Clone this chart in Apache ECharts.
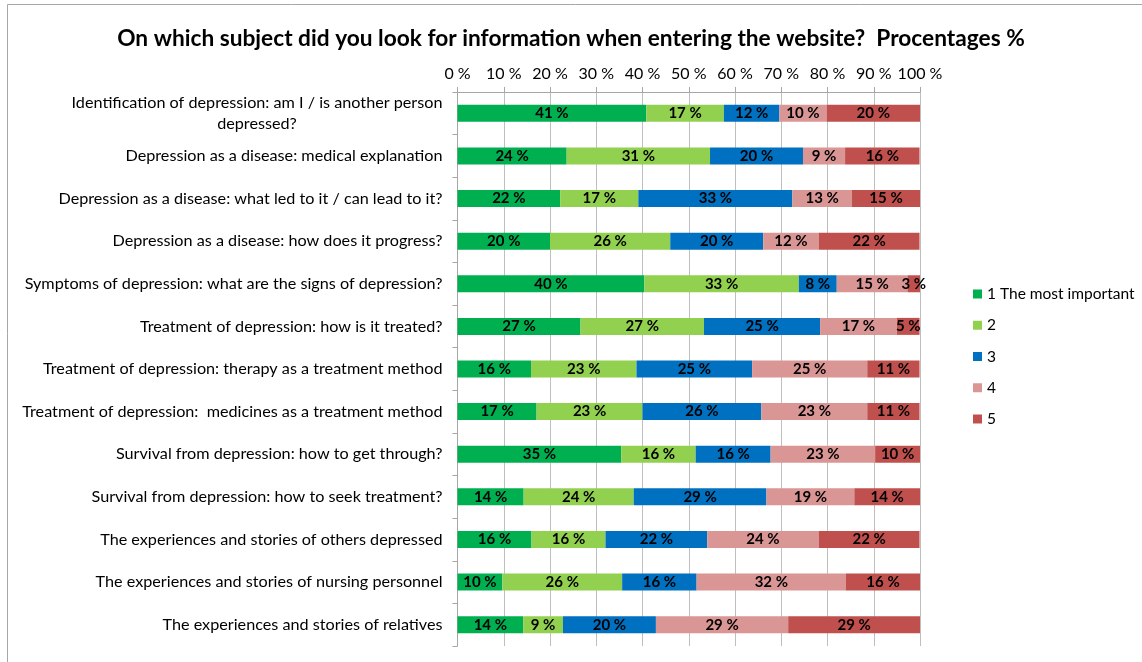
<!DOCTYPE html>
<html>
<head>
<meta charset="utf-8">
<script src="https://cdn.jsdelivr.net/npm/echarts@6/dist/echarts.min.js"></script>
<style>
html,body{margin:0;padding:0;background:#fff;}
#chart{width:1142px;height:662px;}
</style>
</head>
<body>
<div id="chart"></div>
<script>
var categories = [
  "Identification of depression: am I / is another person\ndepressed?",
  "Depression as a disease: medical explanation",
  "Depression as a disease: what led to it / can lead to it?",
  "Depression as a disease: how does it progress?",
  "Symptoms of depression: what are the signs of depression?",
  "Treatment of depression: how is it treated?",
  "Treatment of depression: therapy as a treatment method",
  "Treatment of depression:  medicines as a treatment method",
  "Survival from depression: how to get through?",
  "Survival from depression: how to seek treatment?",
  "The experiences and stories of others depressed",
  "The experiences and stories of nursing personnel",
  "The experiences and stories of relatives"
];
var seriesNames = ["1 The most important", "2", "3", "4", "5"];
var rank1 = [40.8, 23.6, 22.2, 20.0, 40.4, 26.6, 15.9, 17.1, 35.4, 14.3, 16.0, 9.7, 14.2];
var rank2 = [16.8, 31.0, 16.9, 26.0, 33.4, 26.7, 22.8, 22.9, 16.1, 23.8, 16.0, 25.9, 8.6];
var rank3 = [12.0, 20.1, 33.3, 20.1, 8.2, 25.1, 25.0, 25.7, 16.2, 28.7, 22.0, 16.1, 20.1];
var rank4 = [10.2, 9.1, 12.9, 12.0, 15.3, 16.6, 24.9, 22.9, 22.6, 19.0, 24.1, 32.3, 28.6];
var rank5 = [20.2, 16.1, 14.7, 21.8, 2.7, 4.9, 11.3, 11.3, 9.7, 14.2, 21.8, 16.0, 28.6];
var tickLabels = ["0 %", "10 %", "20 %", "30 %", "40 %", "50 %", "60 %", "70 %", "80 %", "90 %", "100 %"];
var colors = ["#00B050", "#92D050", "#0070C0", "#DA9694", "#C0504D"];

var FONT = "Lato";
var YFS = 16.2;
function measure(t, fs) {
  var c = document.createElement('canvas').getContext('2d');
  c.font = fs + 'px ' + FONT;
  return Math.ceil(c.measureText(t).width);
}
var values = [rank1, rank2, rank3, rank4, rank5];
var chart = echarts.init(document.getElementById('chart'));
var series = values.map(function (v, i) {
  return {
    name: seriesNames[i],
    type: 'bar',
    stack: 'total',
    barWidth: 17,
    itemStyle: { color: colors[i] },
    label: {
      show: true,
      position: 'inside',
      color: '#000',
      fontFamily: FONT,
      fontWeight: 'bold',
      fontSize: 15,
      formatter: function (p) { return Math.round(p.value) + ' %'; }
    },
    data: v.slice().reverse()
  };
});
chart.setOption({
  backgroundColor: '#fff',
  animation: false,
  title: {
    text: 'On which subject did you look for information when entering the website?  Procentages %',
    left: 566,
    textAlign: 'center',
    top: 22,
    textStyle: { fontFamily: FONT, fontWeight: 'bold', fontSize: 22.7, color: '#000' }
  },
  graphic: [{
    type: 'rect', shape: { x: 7.5, y: 4.5, width: 1200, height: 700 },
    style: { fill: 'none', stroke: '#a6a6a6', lineWidth: 1 }, silent: true, z: -1
  }],
  legend: {
    orient: 'vertical',
    left: 968,
    top: 280,
    itemWidth: 9,
    itemHeight: 9,
    itemGap: 13.25,
    icon: 'rect',
    textStyle: { fontFamily: FONT, fontSize: 15.5, color: '#000', lineHeight: 18 },
    data: seriesNames
  },
  grid: { left: 457.5, right: 222, top: 92, bottom: 16, containLabel: false },
  xAxis: {
    type: 'value',
    position: 'top',
    min: 0, max: 100, interval: 10,
    axisLine: { show: true, lineStyle: { color: '#a6a6a6' } },
    axisTick: { show: true, length: 5, lineStyle: { color: '#a6a6a6' } },
    splitLine: { show: true, lineStyle: { color: '#bfbfbf' } },
    axisLabel: {
      fontFamily: FONT, fontSize: 16, color: '#000', margin: 10,
      formatter: function (v) { return tickLabels[Math.round(v / 10)]; }
    }
  },
  yAxis: {
    type: 'category',
    data: categories.slice().reverse(),
    axisLine: { show: true, lineStyle: { color: '#a6a6a6' } },
    axisTick: { show: true, length: 5, lineStyle: { color: '#a6a6a6' } },
    axisLabel: {
      fontFamily: FONT, fontSize: YFS, color: '#000', margin: 15, lineHeight: 21,
      formatter: function (v) {
        if (v.indexOf('\n') >= 0) {
          return v.split('\n').map(function (p) { return '{c|' + p + '}'; }).join('\n');
        }
        return v;
      },
      rich: { c: { width: measure(categories[0].split('\n')[0], YFS), align: 'center', fontFamily: FONT, fontSize: YFS, color: '#000', lineHeight: 21 } }
    }
  },
  series: series
});
</script>
</body>
</html>
